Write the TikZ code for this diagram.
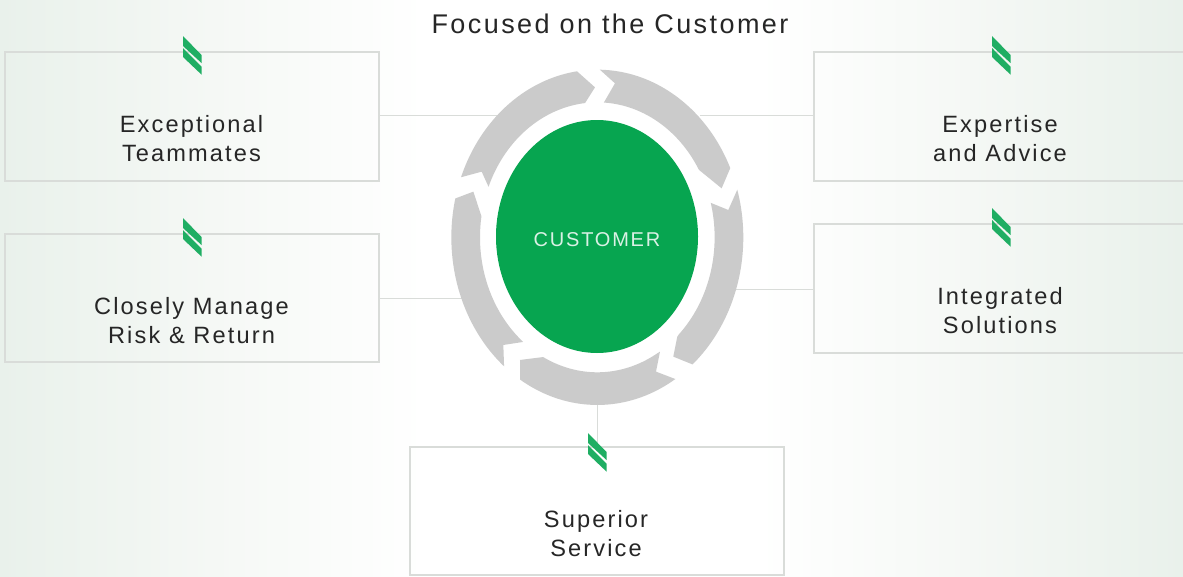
\documentclass[tikz,border=0pt]{standalone}
\usepackage{fontspec}
\setmainfont[LetterSpace=9]{Liberation Sans}
\definecolor{bgedge}{HTML}{E9F1EB}
\definecolor{bgmid}{HTML}{F5F8F5}
\definecolor{boxline}{HTML}{D9DCD9}
\definecolor{ringgrey}{HTML}{CBCBCB}
\definecolor{custgreen}{HTML}{07A550}
\definecolor{chevgreen}{HTML}{1FAE63}
\definecolor{inktext}{HTML}{262626}
\pgfdeclarehorizontalshading{bgband}{100bp}{color(0bp)=(bgedge); color(25bp)=(bgedge); color(34bp)=(bgmid); color(43bp)=(white); color(57bp)=(white); color(66bp)=(bgmid); color(75bp)=(bgedge); color(100bp)=(bgedge)}
\tikzset{
  infobox/.style={draw=boxline,line width=1.2pt,rectangle,inner sep=0pt},
  link/.style={draw=boxline,line width=1pt},
  boxlabel/.style={align=center,text=inktext,font=\fontsize{23.6}{29}\selectfont,inner sep=0pt},
  ringseg/.style={fill=ringgrey},
  chevstrip/.style={fill=chevgreen},
  arcsamples/.style={samples=40,smooth}
}
\newcommand{\chevmark}[2]{%
  \fill[chevstrip] (#1,#2) -- ++(18.5,19) -- ++(0,8) -- ++(-18.5,-17) -- cycle;
  \fill[chevstrip] (#1,#2+12) -- ++(18.5,18.6) -- ++(0,8) -- ++(-18.5,-17.6) -- cycle;
}
% ring arcs, in the reference's 3x crop coordinates
\newcommand{\ox}{472+438*cos(\x)}
\newcommand{\oy}{562-503*sin(\x)}
\newcommand{\ix}{472+352*cos(\x)}
\newcommand{\iy}{562-405*sin(\x)}
\begin{document}
\begin{tikzpicture}[x=1pt,y=-1pt]
\useasboundingbox (0,0) rectangle (1183,576);
\shade[shading=bgband] (0,0) rectangle (1183,576);

% boxes
\node[infobox,minimum width=374pt,minimum height=129pt] (b1) at (192,116.5) {};
\node[infobox,minimum width=374pt,minimum height=128pt] (b2) at (192,298) {};
\node[infobox,minimum width=380pt,minimum height=129pt] (b3) at (1004,116.5) {};
\node[infobox,minimum width=380pt,minimum height=129pt] (b4) at (1004,288.5) {};
\node[infobox,minimum width=374pt,minimum height=128pt] (b5) at (597,511) {};

% connector ends on the ring
\coordinate (r1) at (500,115);
\coordinate (r2) at (470,298);
\coordinate (r3) at (700,115);
\coordinate (r4) at (730,289);
\coordinate (r5) at (597,400);
\draw[link] (b1.east |- r1) -- (r1);
\draw[link] (b2.east |- r2) -- (r2);
\draw[link] (b3.west |- r3) -- (r3);
\draw[link] (b4.west |- r4) -- (r4);
\draw[link] (b5.north) -- (r5);

\begin{scope}[shift={(440pt,-50pt)},x=0.3333pt,y=-0.3333pt]
\fill[ringseg] plot[arcsamples,domain=159:98] ({\ox},{\oy}) -- (465,112) -- plot[arcsamples,domain=96:158] ({\ix},{\iy}) -- (125,365) -- cycle;
\fill[ringseg] plot[arcsamples,domain=89:24.4] ({\ox},{\oy}) -- (845,415) -- plot[arcsamples,domain=30:86.8] ({\ix},{\iy}) -- (525,100) -- cycle;
\fill[ringseg] plot[arcsamples,domain=16.5:-49.3] ({\ox},{\oy}) -- (700,920) -- (712,860) -- plot[arcsamples,domain=-46:14.8] ({\ix},{\iy}) -- (865,480) -- cycle;
\fill[ringseg] plot[arcsamples,domain=-117.5:-60] ({\ix},{\iy}) -- (660,905) -- (648,965) -- plot[arcsamples,domain=-57.7:-121.9] ({\ox},{\oy}) -- (240,930) -- cycle;
\fill[ringseg] plot[arcsamples,domain=230.3:166.6] ({\ox},{\oy}) -- (100,425) -- plot[arcsamples,domain=171:230.8] ({\ix},{\iy}) -- (190,885) -- cycle;
\end{scope}

% centre
\fill[custgreen] (597,236.5) ellipse [x radius=101, y radius=116.5];
\node[text=white!85!custgreen,font=\fontsize{20}{24}\selectfont,inner sep=0pt] (cust) at (597,240) {CUSTOMER};

% chevrons
\chevmark{183}{36}
\chevmark{183}{218}
\chevmark{992}{36}
\chevmark{992}{208}
\chevmark{588}{433}

% labels
\node[boxlabel,font=\fontsize{27}{32}\selectfont] (title) at (610,24) {Focused on the Customer};
\node[boxlabel] (t1) at (191.5,139) {Exceptional\\Teammates};
\node[boxlabel] (t2) at (191.5,320.5) {Closely Manage\\Risk \& Return};
\node[boxlabel] (t3) at (1000,139) {Expertise\\and Advice};
\node[boxlabel] (t4) at (1000,311) {Integrated\\Solutions};
\node[boxlabel] (t5) at (596,534) {Superior\\Service};
\end{tikzpicture}
\end{document}
